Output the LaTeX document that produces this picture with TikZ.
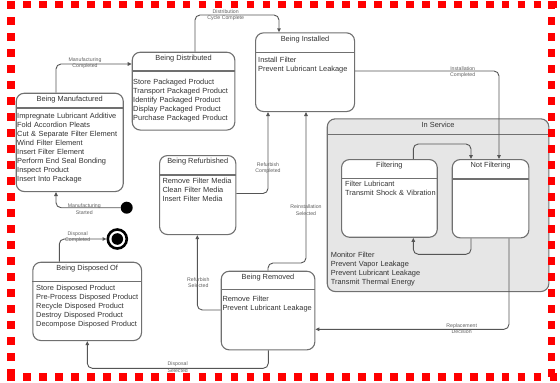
\documentclass[tikz,border=0pt]{standalone}
\usepackage{fontspec}
\setmainfont{Liberation Sans}
\usetikzlibrary{arrows.meta,calc}

\definecolor{boxgray}{HTML}{707070}
\definecolor{linegray}{HTML}{555555}
\definecolor{textgray}{HTML}{333333}
\definecolor{labelgray}{HTML}{606060}
\definecolor{svcfill}{HTML}{E6E6E6}

\tikzset{
  statebox/.style={draw=boxgray, line width=1.1pt, rounded corners=8pt, fill=white,
    inner sep=0pt, anchor=north west},
  divider/.style={draw=boxgray, line width=1.1pt},
  titletext/.style={font=\fontsize{7.4}{9}\selectfont, text=textgray, anchor=base, inner sep=0pt},
  bodytext/.style={font=\fontsize{7.4}{9}\selectfont, text=textgray, anchor=base west,
    inner sep=0pt, text width=200pt, align=left},
  trans/.style={draw=linegray, line width=0.9pt, rounded corners=5pt,
    -{Triangle[length=4pt,width=3.6pt]}},
  trlabel/.style={font=\fontsize{5.2}{6.3}\selectfont, text=labelgray, align=center, inner sep=0pt},
  redframe/.style={draw=red, line width=7.6pt},
}

% state box: [extra style]{name}{x1}{y1}{x2}{y2}{divider y}{title y}{title}
\newcommand\umlstate[9][]{%
  \node[statebox, #1, minimum width={(#5-#3)*1pt}, minimum height={(#6-#4)*1pt}] (#2) at (#3,#4) {};
  \draw[divider] (#2.west |- 0,#7) -- (#2.east |- 0,#7);
  \node[titletext] (#2-title) at (#2.north |- 0,{#8+2.7}) {#9};
}

\begin{document}
\begin{tikzpicture}[x=1pt, y=-1pt]
\useasboundingbox (0,0) rectangle (560,383);

% composite state
\umlstate[fill=svcfill]{svc}{326.7}{118.3}{548.3}{291}{134.3}{124.3}{In Service}
\node[bodytext] (svc-body) at (330.7,257) {Monitor Filter\\Prevent Vapor Leakage\\Prevent Lubricant Leakage\\Transmit Thermal Energy};

% simple states
\umlstate{man}{15.7}{92.7}{122.7}{191}{108}{99}{Being Manufactured}
\node[bodytext] (man-body) at (17,118.7) {Impregnate Lubricant Additive\\Fold Accordion Pleats\\Cut \& Separate Filter Element\\Wind Filter Element\\Insert Filter Element\\Perform End Seal Bonding\\Inspect Product\\Insert Into Package};

\umlstate{dist}{131.7}{51.7}{234.3}{129.5}{71}{57.3}{Being Distributed}
\node[bodytext] (dist-body) at (133,84.4) {Store Packaged Product\\Transport Packaged Product\\Identify Packaged Product\\Display Packaged Product\\Purchase Packaged Product};

\umlstate{inst}{255}{32.3}{354}{111}{52.3}{38.7}{Being Installed}
\node[bodytext] (inst-body) at (258,62) {Install Filter\\Prevent Lubricant Leakage};

\umlstate{refurb}{159}{155}{235.3}{234}{175}{161}{Being Refurbished}
\node[bodytext] (refurb-body) at (162.3,183) {Remove Filter Media\\Clean Filter Media\\Insert Filter Media};

\umlstate{rem}{220.7}{270.7}{314.3}{349.3}{289.7}{276.7}{Being Removed}
\node[bodytext] (rem-body) at (222.3,301) {Remove Filter\\Prevent Lubricant Leakage};

\umlstate{disp}{32.3}{261.7}{141}{340}{281.3}{268}{Being Disposed Of}
\node[bodytext] (disp-body) at (36,290.4) {Store Disposed Product\\Pre-Process Disposed Product\\Recycle Disposed Product\\Destroy Disposed Product\\Decompose Disposed Product};

\umlstate{filt}{341}{159}{436.7}{236.7}{178.3}{164.3}{Filtering}
\node[bodytext] (filt-body) at (345,186.4) {Filter Lubricant\\Transmit Shock \& Vibration};

\umlstate{nfilt}{451.7}{159}{528.3}{237.3}{179}{165}{Not Filtering}

% pseudo states
\node[circle, fill=black, minimum size=12pt, inner sep=0pt] (init) at (126.7,207.7) {};
\node[circle, draw=black, line width=2.6pt, minimum size=19pt, inner sep=0pt] (final) at (117.3,239) {};
\fill[black] (final.center) circle (5.8);

% transitions
\draw[trans] (man.north -| 56,0) |- (dist.west |- 0,64);
\draw[trans] (dist.north -| 195,0) |- (279,15) -- (inst.north -| 279,0);
\draw[trans] (inst.east |- 0,71) -| (nfilt.north -| 499,0);
\draw[trans] (filt.north -| 413.3,0) |- (471,144) -- (nfilt.north -| 471,0);
\draw[trans] (nfilt.south -| 471,0) |- (413.3,254.3) -- (filt.south -| 413.3,0);
\draw[trans] (nfilt.south -| 509,0) |- (rem.east |- 0,329.3);
\draw[trans] (refurb.east |- 0,193.5) -| (inst.south -| 268,0);
\draw[trans] (rem.north -| 268,0) |- (306,263) -- (inst.south -| 306,0);
\draw[trans] (rem.west |- 0,310) -| (refurb.south -| 197.3,0);
\draw[trans] (rem.south -| 268.3,0) |- (87.3,368.3) -- (disp.south -| 87.3,0);
\draw[trans] (disp.north -| 59.3,0) |- (final.west);
\draw[trans] (init.west) -| (man.south -| 56,0);

% transition labels
\node[trlabel] (l-mc) at (85,63) {Manufacturing\\Completed};
\node[trlabel] (l-dc) at (225.7,15) {Distribution\\Cycle Complete};
\node[trlabel] (l-ic) at (462.7,72.5) {Installation\\Completed};
\node[trlabel] (l-rd) at (461.7,328.3) {Replacement\\Decision};
\node[trlabel] (l-rc) at (268,168.3) {Refurbish\\Completed};
\node[trlabel] (l-rs) at (306,210) {Reinstallation\\Selected};
\node[trlabel] (l-fs) at (198.3,282.5) {Refurbish\\Selected};
\node[trlabel] (l-ds) at (177.7,367.2) {Disposal\\Selected};
\node[trlabel] (l-dco) at (77.7,237) {Disposal\\Completed};
\node[trlabel] (l-ms) at (84.3,209.2) {Manufacturing\\Started};

% dashed red frame
\draw[redframe, dash pattern=on 7.7pt off 8.25pt] (7.3,4.65) -- (560,4.65);
\draw[redframe, dash pattern=on 7.7pt off 8.25pt] (7.3,377) -- (560,377);
\draw[redframe, dash pattern=on 7.7pt off 8.3pt] (11.15,1) -- (11.15,383);
\draw[redframe, dash pattern=on 7.7pt off 8.3pt] (551.5,1) -- (551.5,383);
\end{tikzpicture}
\end{document}
